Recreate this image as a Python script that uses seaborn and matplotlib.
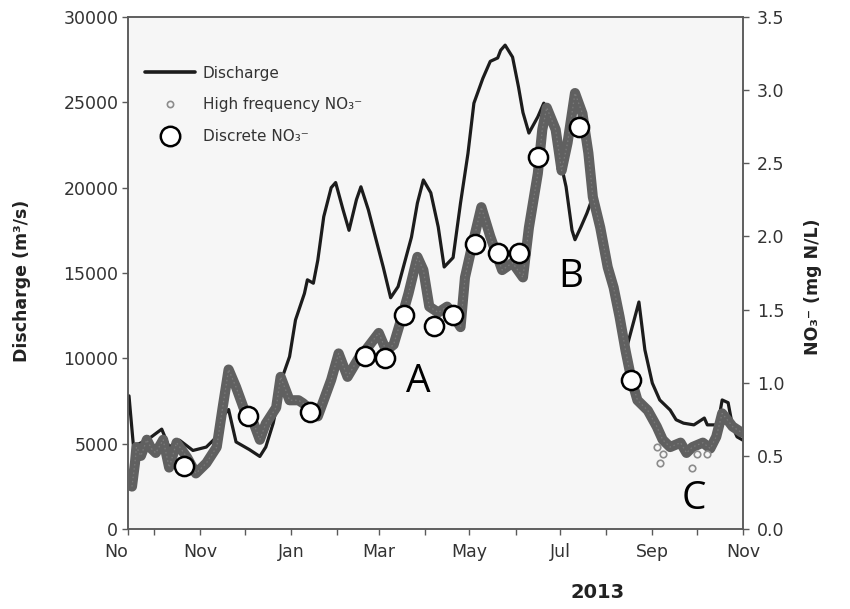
import numpy as np
import pandas as pd
import matplotlib
matplotlib.use("Agg")
import matplotlib.pyplot as plt
from matplotlib.lines import Line2D
import seaborn as sns

# ---------------- data ----------------
discharge_dates = [
    "2012-09-14", "2012-09-15", "2012-09-17", "2012-09-26", "2012-10-06", "2012-10-11",
    "2012-10-18", "2012-10-27", "2012-11-05", "2012-11-12", "2012-11-16", "2012-11-20",
    "2012-11-25", "2012-12-04", "2012-12-11", "2012-12-15", "2012-12-20", "2012-12-27",
    "2012-12-31", "2013-01-04", "2013-01-10", "2013-01-12", "2013-01-16", "2013-01-19",
    "2013-01-23", "2013-01-28", "2013-01-31", "2013-02-05", "2013-02-09", "2013-02-14",
    "2013-02-17", "2013-02-22", "2013-02-26", "2013-03-04", "2013-03-09", "2013-03-14",
    "2013-03-23", "2013-03-27", "2013-03-31", "2013-04-05", "2013-04-10", "2013-04-14",
    "2013-04-20", "2013-04-25", "2013-04-30", "2013-05-04", "2013-05-10", "2013-05-15",
    "2013-05-20", "2013-05-22", "2013-05-25", "2013-05-30", "2013-06-03", "2013-06-06",
    "2013-06-10", "2013-06-16", "2013-06-20", "2013-06-25", "2013-06-29", "2013-07-05",
    "2013-07-09", "2013-07-11", "2013-07-15", "2013-07-19", "2013-07-23", "2013-07-28",
    "2013-08-02", "2013-08-06", "2013-08-11", "2013-08-15", "2013-08-19", "2013-08-23",
    "2013-08-27", "2013-09-01", "2013-09-06", "2013-09-13", "2013-09-17", "2013-09-22",
    "2013-09-29", "2013-10-06", "2013-10-08", "2013-10-15", "2013-10-18", "2013-10-22",
    "2013-10-25", "2013-10-28", "2013-11-01",
]
discharge_vals = [
    7800, 6800, 4850, 5200, 5850, 4800,
    5200, 4600, 4800, 5400, 6600, 7000,
    5100, 4650, 4250, 4800, 6200, 9100,
    10100, 12250, 13800, 14600, 14400, 15750,
    18300, 20000, 20300, 18700, 17500, 19300,
    20050, 18700, 17350, 15350, 13550, 14200,
    17100, 19100, 20450, 19700, 17700, 15350,
    15900, 19100, 22000, 24950, 26400, 27400,
    27600, 28050, 28350, 27650, 25900, 24400,
    23200, 24150, 24950, 24400, 22400, 20050,
    17500, 16950, 17700, 18500, 19450, 18100,
    16200, 14200, 12850, 10700, 12000, 13300,
    10500, 8550, 7560, 6970, 6400, 6200,
    6100, 6500, 6100, 6100, 7560, 7400,
    6000, 5400, 5200,
]

hf_dates = [
    "2012-09-16", "2012-09-18", "2012-09-19", "2012-09-22", "2012-09-26", "2012-09-29",
    "2012-10-02", "2012-10-07", "2012-10-11", "2012-10-16", "2012-10-23", "2012-10-29",
    "2012-11-05", "2012-11-12", "2012-11-16", "2012-11-20", "2012-11-25", "2012-11-30",
    "2012-12-07", "2012-12-11", "2012-12-15", "2012-12-22", "2012-12-25", "2012-12-31",
    "2013-01-06", "2013-01-09", "2013-01-19", "2013-01-28", "2013-02-02", "2013-02-08",
    "2013-02-15", "2013-02-20", "2013-03-01", "2013-03-06", "2013-03-11", "2013-03-16",
    "2013-03-21", "2013-03-27", "2013-03-31", "2013-04-04", "2013-04-10", "2013-04-16",
    "2013-04-22", "2013-04-25", "2013-04-28", "2013-05-02", "2013-05-09", "2013-05-15",
    "2013-05-23", "2013-05-30", "2013-06-06", "2013-06-10", "2013-06-16", "2013-06-19",
    "2013-06-22", "2013-06-28", "2013-07-02", "2013-07-06", "2013-07-11", "2013-07-16",
    "2013-07-20", "2013-07-23", "2013-07-28", "2013-08-02", "2013-08-06", "2013-08-10",
    "2013-08-14", "2013-08-18", "2013-08-22", "2013-08-29", "2013-09-04", "2013-09-08",
    "2013-09-13", "2013-09-20", "2013-09-24", "2013-09-28", "2013-10-05", "2013-10-10",
    "2013-10-14", "2013-10-18", "2013-10-22", "2013-10-25", "2013-10-31",
]
hf_vals = [
    0.29, 0.45, 0.56, 0.50, 0.61, 0.55,
    0.52, 0.61, 0.42, 0.59, 0.49, 0.38,
    0.45, 0.56, 0.83, 1.09, 0.97, 0.83,
    0.72, 0.61, 0.72, 0.83, 1.04, 0.88,
    0.88, 0.86, 0.77, 1.02, 1.20, 1.04,
    1.16, 1.22, 1.34, 1.22, 1.26, 1.43,
    1.61, 1.86, 1.77, 1.52, 1.48, 1.52,
    1.43, 1.38, 1.72, 1.90, 2.20, 2.00,
    1.77, 1.82, 1.72, 2.06, 2.43, 2.73,
    2.88, 2.73, 2.45, 2.64, 2.98, 2.84,
    2.57, 2.27, 2.06, 1.79, 1.65, 1.45,
    1.22, 1.02, 0.88, 0.81, 0.70, 0.61,
    0.56, 0.59, 0.52, 0.56, 0.59, 0.55,
    0.63, 0.79, 0.74, 0.70, 0.66,
]

hf_outlier_dates = ["2013-09-04", "2013-09-06", "2013-09-08", "2013-09-28", "2013-10-01", "2013-10-08"]
hf_outlier_vals = [0.56, 0.45, 0.51, 0.42, 0.51, 0.51]

discrete_dates = [
    "2012-10-21", "2012-12-03", "2013-01-14", "2013-02-20", "2013-03-05", "2013-03-18",
    "2013-04-07", "2013-04-20", "2013-05-05", "2013-05-20", "2013-06-03", "2013-06-16",
    "2013-07-14", "2013-08-18",
]
discrete_vals = [0.43, 0.77, 0.80, 1.18, 1.17, 1.46, 1.39, 1.46, 1.95, 1.89, 1.89, 2.54, 2.75, 1.02]

x_tick_dates = ["2012-09-13 08:00", "2012-10-01 00:00", "2012-11-01 00:00", "2012-12-01 00:00",
                "2013-01-01 00:00", "2013-02-01 00:00", "2013-03-01 00:00", "2013-04-01 00:00",
                "2013-05-01 00:00", "2013-06-01 00:00", "2013-07-01 00:00", "2013-08-01 00:00",
                "2013-09-01 00:00", "2013-10-01 00:00", "2013-11-01 00:00"]
x_tick_labels = ["No", "", "Nov", "", "Jan", "", "Mar", "", "May", "", "Jul", "", "Sep", "", "Nov"]
left_ticks = [0, 5000, 10000, 15000, 20000, 25000, 30000]
right_ticks = [0.0, 0.5, 1.0, 1.5, 2.0, 2.5, 3.0, 3.5]
right_tick_labels = ["0.0", "0.5", "1.0", "1.5", "2.0", "2.5", "3.0", "3.5"]
letters = ["A", "B", "C"]
letter_pos = [(0.4715, 0.287), (0.720, 0.492), (0.920, 0.0586)]

legend_labels = ["Discharge", "High frequency NO\u2083\u207b", "Discrete NO\u2083\u207b"]

# ---------------- style ----------------
sns.set_theme(style="ticks")
plt.rcParams["font.family"] = ["DejaVu Sans"]

df_q = pd.DataFrame({"date": pd.to_datetime(discharge_dates), "q": discharge_vals})
df_hf = pd.DataFrame({"date": pd.to_datetime(hf_dates), "no3": hf_vals})
df_out = pd.DataFrame({"date": pd.to_datetime(hf_outlier_dates), "no3": hf_outlier_vals})
df_d = pd.DataFrame({"date": pd.to_datetime(discrete_dates), "no3": discrete_vals})
tick_dates = pd.to_datetime(x_tick_dates, format="%Y-%m-%d %H:%M")

fig = plt.figure(figsize=(8.5, 6.09), dpi=100)
fig.patch.set_facecolor("white")
ax = fig.add_axes([0.1506, 0.1314, 0.7235, 0.8407])
ax.set_facecolor("#f6f6f6")

band_col = "#606060"
line_col = "#1c1c1c"

sns.lineplot(data=df_q, x="date", y="q", ax=ax, color=line_col, linewidth=2.3,
             estimator=None, sort=False, legend=False, zorder=2)

ax2 = ax.twinx()
ax2.patch.set_alpha(0)
sns.lineplot(data=df_hf, x="date", y="no3", ax=ax2, color=band_col, linewidth=7.3,
             estimator=None, sort=False, legend=False, zorder=3,
             solid_capstyle="round", solid_joinstyle="round")
# faint centre trace of the hollow high-frequency markers
sns.lineplot(data=df_hf, x="date", y="no3", ax=ax2, color="#9a9a9a", linewidth=0.9,
             linestyle=(0, (1.2, 2.2)), alpha=0.45, estimator=None, sort=False,
             legend=False, zorder=3)
sns.scatterplot(data=df_out, x="date", y="no3", ax=ax2, color="#f6f6f6",
                edgecolor="#8c8c8c", linewidth=1.2, s=22, legend=False, zorder=3)
sns.scatterplot(data=df_d, x="date", y="no3", ax=ax2, color="white",
                edgecolor="black", linewidth=1.8, s=190, legend=False, zorder=5)

xmin = tick_dates[0]
xmax = tick_dates[-1]
ax.set_xlim(xmin, xmax)
ax2.set_xlim(xmin, xmax)
ax.set_ylim(0, 30000)
ax2.set_ylim(0, 3.5)

ax.set_xticks(tick_dates)
ax.set_xticklabels(x_tick_labels)
ax.set_yticks(left_ticks)
ax.set_yticklabels([str(v) for v in left_ticks])
ax2.set_yticks(right_ticks)
ax2.set_yticklabels(right_tick_labels)

tick_col = "#333333"
spine_col = "#5a5a5a"
for a in (ax, ax2):
    for s in a.spines.values():
        s.set_color(spine_col)
        s.set_linewidth(1.1)
    a.tick_params(colors=spine_col, labelcolor=tick_col, labelsize=12.5,
                  length=4, width=1.0, direction="out")
ax.tick_params(axis="x", pad=6)
ax.tick_params(axis="y", pad=3)
ax2.tick_params(axis="y", pad=6)

ax.get_xticklabels()[0].set_horizontalalignment("right")

ax.set_xlabel("2013", fontsize=14, fontweight="bold", color="#222222")
ax.xaxis.set_label_coords(0.764, -0.105)
ax.set_ylabel("Discharge (m\u00b3/s)", fontsize=12.5, fontweight="bold", color="#222222")
ax.yaxis.set_label_coords(-0.157, 0.484)
ax2.set_ylabel("NO\u2083\u207b (mg N/L)", fontsize=12.5, fontweight="bold", color="#222222",
               rotation=90)
ax2.yaxis.set_label_coords(1.100, 0.473)

for t, (px, py) in zip(letters, letter_pos):
    ax.text(px, py, t, transform=ax.transAxes, ha="center", va="center",
            fontsize=28, family="Open Sans", color="black", zorder=6)

handles = [
    Line2D([0], [0], color=line_col, lw=2.6),
    Line2D([0], [0], ls="none", marker="o", markersize=4.5, markerfacecolor="#f6f6f6",
           markeredgecolor="#8c8c8c", markeredgewidth=1.2),
    Line2D([0], [0], ls="none", marker="o", markersize=14, markerfacecolor="white",
           markeredgecolor="black", markeredgewidth=1.8),
]
leg = ax2.legend(handles, legend_labels, loc="upper left", bbox_to_anchor=(0.027, 0.905),
                 frameon=False, fontsize=11, handlelength=3.3, handletextpad=0.5,
                 labelspacing=1.1, borderpad=0, borderaxespad=0)
for t in leg.get_texts():
    t.set_color("#333333")

fig.savefig("out.png", dpi=100, facecolor="white")
